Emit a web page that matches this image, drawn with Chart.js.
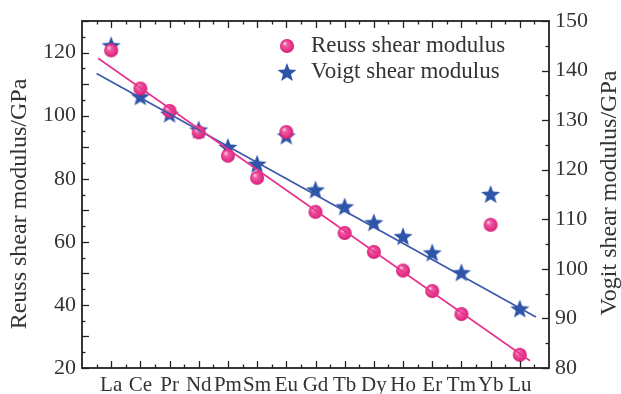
<!DOCTYPE html>
<html>
<head>
<meta charset="utf-8">
<script src="https://cdn.jsdelivr.net/npm/chart.js@4"></script>
<style>
  html, body { margin: 0; padding: 0; background: #fff; }
  #wrap { width: 621px; height: 394px; }
</style>
</head>
<body>
<div id="wrap"><canvas id="shearChart" width="621" height="394"></canvas></div>
<script>
// rare-earth elements along the x axis
const elements = ['La', 'Ce', 'Pr', 'Nd', 'Pm', 'Sm', 'Eu', 'Gd', 'Tb', 'Dy', 'Ho', 'Er', 'Tm', 'Yb', 'Lu'];

// Reuss shear modulus (GPa, left axis)
const reussModulus = [120.7, 108.6, 101.5, 94.7, 87.3, 80.3, 94.8, 69.5, 62.8, 56.8, 50.9, 44.4, 37.1, 65.4, 24.2];
// Voigt shear modulus (GPa, right axis)
const voigtModulus = [145.1, 134.8, 131.3, 128.1, 124.6, 121.2, 126.9, 116.0, 112.6, 109.4, 106.6, 103.3, 99.3, 115.1, 92.0];

// linear fit lines, endpoints
const reussFitX = [-0.45, 14.35];
const reussFitY = [118.2, 22.3];
const voigtFitX = [-0.5, 14.55];
const voigtFitY = [139.4, 90.3];

const leftTicks = [20, 40, 60, 80, 100, 120];
const rightTicks = [80, 90, 100, 110, 120, 130, 140, 150];

const PINK = '#e8318b';
const BLUE = '#2c54a8';
const INK = '#222';
const FONT = "'Liberation Serif', 'Times New Roman', serif";

// little shaded sphere for the Reuss points
function makeSphere(r) {
    const c = document.createElement('canvas');
    const s = r * 2 + 2;
    c.width = s; c.height = s;
    const g = c.getContext('2d');
    const cx = s / 2, cy = s / 2;
    const grad = g.createRadialGradient(cx - r * 0.35, cy - r * 0.4, r * 0.05, cx, cy, r);
    grad.addColorStop(0, '#fbd3e6');
    grad.addColorStop(0.3, '#ef5aa2');
    grad.addColorStop(0.75, PINK);
    grad.addColorStop(1, '#c91f72');
    g.fillStyle = grad;
    g.beginPath();
    g.arc(cx, cy, r, 0, Math.PI * 2);
    g.fill();
    return c;
}

// filled five-pointed star for the Voigt points
function makeStar(r) {
    const c = document.createElement('canvas');
    const s = r * 2 + 2;
    c.width = s; c.height = s;
    const g = c.getContext('2d');
    const cx = s / 2, cy = s / 2 + r * 0.1;
    g.fillStyle = BLUE;
    g.beginPath();
    for (let i = 0; i < 10; i++) {
        const rad = i % 2 === 0 ? r : r * 0.42;
        const a = -Math.PI / 2 + i * Math.PI / 5;
        const px = cx + rad * Math.cos(a), py = cy + rad * Math.sin(a);
        if (i === 0) g.moveTo(px, py); else g.lineTo(px, py);
    }
    g.closePath();
    g.fill();
    return c;
}

const sphereImg = makeSphere(7);
const starImg = makeStar(10);

const reussPoints = reussModulus.map((v, i) => ({ x: i, y: v }));
const voigtPoints = voigtModulus.map((v, i) => ({ x: i, y: v }));
const reussFit = reussFitX.map((x, i) => ({ x: x, y: reussFitY[i] }));
const voigtFit = voigtFitX.map((x, i) => ({ x: x, y: voigtFitY[i] }));

// frame plus inward major/minor ticks, like the original plot
const frameTicks = {
    id: 'frameTicks',
    afterDatasetsDraw(chart) {
        const { ctx, chartArea: a, scales } = chart;
        ctx.save();
        ctx.strokeStyle = INK;
        ctx.lineWidth = 1.3;
        const big = 7, small = 3.5;

        // x axis: bottom and top
        for (let v = -0.5; v <= 14.5; v += 0.5) {
            const px = Math.round(scales.x.getPixelForValue(v)) + 0.5;
            const len = Number.isInteger(v) ? big : small;
            ctx.beginPath();
            ctx.moveTo(px, a.bottom); ctx.lineTo(px, a.bottom - len);
            ctx.moveTo(px, a.top); ctx.lineTo(px, a.top + len);
            ctx.stroke();
        }
        // left axis
        for (let v = 20; v <= 130; v += 5) {
            const py = Math.round(scales.y.getPixelForValue(v)) + 0.5;
            const len = v % 10 === 0 ? big : small;
            ctx.beginPath();
            ctx.moveTo(a.left, py); ctx.lineTo(a.left + len, py);
            ctx.stroke();
        }
        // right axis
        for (let v = 80; v <= 150; v += 5) {
            const py = Math.round(scales.y2.getPixelForValue(v)) + 0.5;
            const len = v % 10 === 0 ? big : small;
            ctx.beginPath();
            ctx.moveTo(a.right, py); ctx.lineTo(a.right - len, py);
            ctx.stroke();
        }

        ctx.lineWidth = 1.8;
        ctx.strokeRect(a.left, a.top, a.right - a.left, a.bottom - a.top);
        ctx.restore();
    },
    afterDraw(chart) {
        const ctx = chart.ctx;
        ctx.save();
        ctx.fillStyle = '#333';

        // legend inside the plot, top right
        ctx.font = '23px ' + FONT;
        ctx.textBaseline = 'middle';
        ctx.drawImage(sphereImg, 287 - sphereImg.width / 2, 46 - sphereImg.height / 2);
        ctx.fillText('Reuss shear modulus', 311, 46);
        ctx.drawImage(starImg, 287 - starImg.width / 2, 72 - starImg.height / 2);
        ctx.fillText('Voigt shear modulus', 311, 72);

        // both axis titles read bottom-to-top
        ctx.font = '24px ' + FONT;
        ctx.textAlign = 'center';
        ctx.translate(20, 204);
        ctx.rotate(-Math.PI / 2);
        ctx.fillText('Reuss shear modulus/GPa', 0, 0);
        ctx.setTransform(1, 0, 0, 1, 0, 0);
        ctx.translate(610, 193);
        ctx.rotate(-Math.PI / 2);
        ctx.fillText('Vogit shear modulus/GPa', 0, 0);
        ctx.restore();
    }
};

Chart.defaults.font.family = FONT;
Chart.defaults.color = '#333';

const ctx = document.getElementById('shearChart').getContext('2d');
const shearChart = new Chart(ctx, {
    type: 'scatter',
    data: {
        datasets: [
            {
                type: 'line',
                label: 'Reuss fit',
                data: reussFit,
                yAxisID: 'y',
                borderColor: PINK,
                borderWidth: 1.6,
                pointRadius: 0,
                fill: false
            },
            {
                type: 'line',
                label: 'Voigt fit',
                data: voigtFit,
                yAxisID: 'y2',
                borderColor: '#3a58aa',
                borderWidth: 1.6,
                pointRadius: 0,
                fill: false
            },
            {
                label: 'Reuss shear modulus',
                data: reussPoints,
                yAxisID: 'y',
                pointStyle: sphereImg,
                pointRadius: 7
            },
            {
                label: 'Voigt shear modulus',
                data: voigtPoints,
                yAxisID: 'y2',
                pointStyle: starImg,
                pointRadius: 10
            }
        ]
    },
    options: {
        responsive: false,
        animation: false,
        layout: { padding: { top: 21, left: 0, right: 0, bottom: 0 } },
        plugins: {
            legend: { display: false },
            tooltip: { enabled: false }
        },
        scales: {
            x: {
                type: 'linear',
                min: -1,
                max: 15,
                afterBuildTicks: scale => {
                    scale.ticks = elements.map((e, i) => ({ value: i }));
                },
                afterFit: scale => { scale.height = 26; },
                grid: { display: false, drawTicks: false },
                border: { display: false },
                ticks: {
                    autoSkip: false,
                    maxRotation: 0,
                    minRotation: 0,
                    padding: 5,
                    font: { size: 21 },
                    callback: value => elements[value] || ''
                }
            },
            y: {
                position: 'left',
                min: 20,
                max: 130,
                afterBuildTicks: scale => {
                    scale.ticks = leftTicks.map(v => ({ value: v }));
                },
                afterFit: scale => { scale.width = 82; },
                grid: { display: false, drawTicks: false },
                border: { display: false },
                ticks: { padding: 6, font: { size: 22 } }
            },
            y2: {
                position: 'right',
                min: 80,
                max: 150,
                afterBuildTicks: scale => {
                    scale.ticks = rightTicks.map(v => ({ value: v }));
                },
                afterFit: scale => { scale.width = 72; },
                grid: { display: false, drawTicks: false },
                border: { display: false },
                ticks: { padding: 6, font: { size: 22 } }
            }
        }
    },
    plugins: [frameTicks]
});
</script>
</body>
</html>
